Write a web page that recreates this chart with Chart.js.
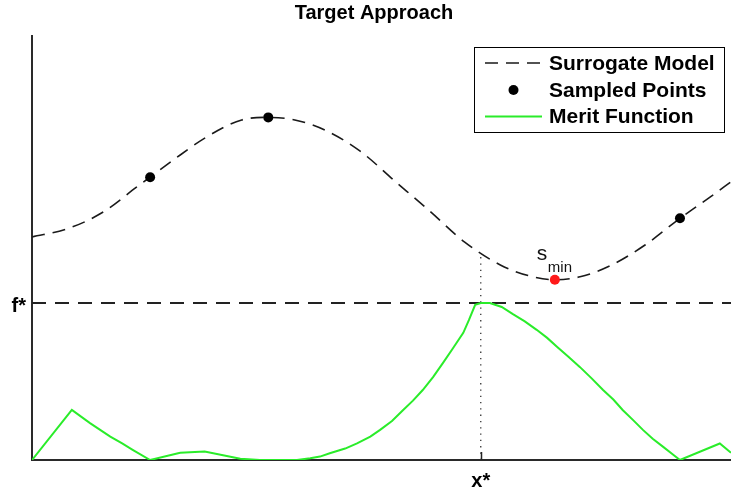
<!DOCTYPE html>
<html>
<head>
<meta charset="utf-8">
<title>Target Approach</title>
<script src="https://cdn.jsdelivr.net/npm/chart.js@4/dist/chart.umd.min.js"></script>
<style>
  html, body { margin: 0; padding: 0; background: #ffffff; }
  canvas { display: block; }
</style>
</head>
<body>
<canvas id="chart" width="731" height="493"></canvas>
<script>
// Surrogate model curve
const surrogateX = [0, 0.50, 1.00, 1.50, 2.00, 2.50, 3.00, 3.38, 3.76, 4.19, 4.69, 5.19, 5.69, 6.19, 6.70, 7.12, 7.48, 7.84, 8.27, 8.77, 9.27, 9.70, 10];
const surrogateY = [5.26, 5.45, 5.83, 6.44, 7.05, 7.62, 8.02, 8.08, 8.02, 7.78, 7.29, 6.58, 5.87, 5.14, 4.60, 4.34, 4.25, 4.32, 4.58, 5.07, 5.70, 6.20, 6.56];

// Points already evaluated
const sampledX = [1.69, 3.38, 9.27];
const sampledY = [6.67, 8.08, 5.70];

// Minimum of the surrogate
const sMinX = [7.48];
const sMinY = [4.25];

// Merit function
const meritX = [0, 0.57, 0.83, 1.12, 1.29, 1.44, 1.69, 2.12, 2.47, 2.98, 3.26, 3.79, 3.98, 4.12, 4.26, 4.48, 4.65, 4.84, 4.98, 5.15, 5.31, 5.45, 5.59, 5.74, 5.88, 6.02, 6.17, 6.25, 6.34, 6.42,
                6.55, 6.72, 6.88, 7.05, 7.22, 7.37, 7.51, 7.67, 7.84, 8.01, 8.17, 8.32, 8.45, 8.60, 8.74, 8.88, 9.03, 9.16, 9.27, 9.84, 10];
const meritY = [0, 1.18, 0.87, 0.55, 0.39, 0.24, 0, 0.17, 0.20, 0.03, 0, 0, 0.04, 0.08, 0.16, 0.27, 0.39, 0.55, 0.71, 0.92, 1.18, 1.40, 1.65, 1.96, 2.29, 2.63, 3.00, 3.30, 3.66, 3.70,
                3.70, 3.61, 3.44, 3.27, 3.07, 2.88, 2.67, 2.44, 2.19, 1.92, 1.65, 1.42, 1.18, 0.94, 0.71, 0.50, 0.31, 0.14, 0, 0.39, 0.17];

// Target value and its location
const xStar = 6.42;
const fStar = 3.70;
const surrogateAtXStar = 4.85;

const xTickLabels = ['x*'];
const yTickLabels = ['f*'];

const FONT = '"Liberation Sans", Arial, Helvetica, sans-serif';
const zip = (xs, ys) => xs.map((x, i) => ({ x, y: ys[i] }));

const surrogateDash = [13, 8];

const overlay = {
  id: 'overlay',
  afterDraw(chart) {
    const ctx = chart.ctx;
    const xs = chart.scales.x, ys = chart.scales.y;
    ctx.save();

    // title
    ctx.fillStyle = '#000';
    ctx.font = 'bold 20px ' + FONT;
    ctx.textAlign = 'center';
    ctx.textBaseline = 'alphabetic';
    ctx.fillText('Target Approach', 374, 19);

    // inner tick at x*
    const tx = Math.round(xs.getPixelForValue(xStar)) + 0.5;
    ctx.strokeStyle = '#222';
    ctx.lineWidth = 1.5;
    ctx.setLineDash([]);
    ctx.beginPath();
    ctx.moveTo(tx, ys.bottom);
    ctx.lineTo(tx, ys.bottom - 8);
    ctx.stroke();

    // s_min label
    const px = xs.getPixelForValue(sMinX[0]);
    const py = ys.getPixelForValue(sMinY[0]);
    ctx.textAlign = 'left';
    ctx.fillStyle = '#111';
    ctx.font = '21px ' + FONT;
    ctx.fillText('s', px - 18, py - 20);
    ctx.font = '15px ' + FONT;
    ctx.fillText('min', px - 7, py - 8);

    // legend box
    const lx = 474.5, ly = 47.5, lw = 250, lh = 85;
    ctx.fillStyle = '#fff';
    ctx.fillRect(lx, ly, lw, lh);
    ctx.strokeStyle = '#000';
    ctx.lineWidth = 1;
    ctx.strokeRect(lx, ly, lw, lh);

    const rows = [63, 90, 116.5];
    const sx0 = 485, sx1 = 542, textX = 549;
    const ds = chart.data.datasets;
    const entries = [ds[1], ds[0], ds[2]];
    entries.forEach((d, i) => {
      const y = rows[i];
      if (d.showLine) {
        ctx.strokeStyle = d.borderColor;
        ctx.lineWidth = d.borderWidth;
        ctx.setLineDash(d.borderDash || []);
        ctx.beginPath();
        ctx.moveTo(sx0, y);
        ctx.lineTo(sx1, y);
        ctx.stroke();
        ctx.setLineDash([]);
      } else {
        ctx.fillStyle = d.backgroundColor;
        ctx.beginPath();
        ctx.arc((sx0 + sx1) / 2, y, d.pointRadius, 0, Math.PI * 2);
        ctx.fill();
      }
      ctx.fillStyle = '#000';
      ctx.font = 'bold 21px ' + FONT;
      ctx.textBaseline = 'middle';
      ctx.fillText(d.label, textX, y + 1);
    });
    ctx.restore();
  }
};

new Chart(document.getElementById('chart'), {
  type: 'scatter',
  data: {
    datasets: [
      {
        label: 'Sampled Points',
        data: zip(sampledX, sampledY),
        showLine: false,
        pointRadius: 5,
        pointHoverRadius: 5,
        backgroundColor: '#000',
        borderColor: '#000',
        borderWidth: 0,
        order: 0
      },
      {
        label: 'Surrogate Model',
        data: zip(surrogateX, surrogateY),
        showLine: true,
        cubicInterpolationMode: 'monotone',
        borderColor: '#1a1a1a',
        borderWidth: 1.6,
        borderDash: surrogateDash,
        pointRadius: 0,
        order: 2
      },
      {
        label: 'Merit Function',
        data: zip(meritX, meritY),
        showLine: true,
        tension: 0,
        borderColor: '#2aec2a',
        borderWidth: 2,
        pointRadius: 0,
        order: 3
      },
      {
        label: 'f*',
        data: [{ x: 0, y: fStar }, { x: 10, y: fStar }],
        showLine: true,
        borderColor: '#222',
        borderWidth: 2,
        borderDash: [14, 9],
        pointRadius: 0,
        order: 4
      },
      {
        label: 'x*',
        data: [{ x: xStar, y: 0 }, { x: xStar, y: surrogateAtXStar }],
        showLine: true,
        borderColor: '#333',
        borderWidth: 1.3,
        borderDash: [1.3, 5],
        pointRadius: 0,
        order: 5
      },
      {
        label: 's_min',
        data: zip(sMinX, sMinY),
        showLine: false,
        pointRadius: 5,
        pointHoverRadius: 5,
        backgroundColor: '#ff1a1a',
        borderColor: '#ff1a1a',
        borderWidth: 0,
        order: 1
      }
    ]
  },
  options: {
    responsive: false,
    animation: false,
    events: [],
    layout: { autoPadding: false, padding: { top: 36, right: 0, left: 0, bottom: 0 } },
    plugins: {
      legend: { display: false },
      title: { display: false },
      tooltip: { enabled: false }
    },
    scales: {
      x: {
        type: 'linear',
        min: 0,
        max: 10,
        grid: { display: false, drawTicks: false },
        border: { display: true, color: '#2a2a2a', width: 2 },
        afterBuildTicks: s => { s.ticks = [{ value: xStar }]; },
        afterFit: s => { s.height = 33; },
        ticks: {
          callback: (v, i) => xTickLabels[i],
          font: { family: FONT, size: 20, weight: 'bold' },
          color: '#000',
          padding: 9,
          maxRotation: 0,
          autoSkip: false
        }
      },
      y: {
        type: 'linear',
        min: 0,
        max: 10,
        grid: { display: false, drawTicks: false },
        border: { display: true, color: '#2a2a2a', width: 2 },
        afterBuildTicks: s => { s.ticks = [{ value: fStar }]; },
        afterFit: s => { s.width = 32; },
        ticks: {
          callback: (v, i) => yTickLabels[i],
          font: { family: FONT, size: 20, weight: 'bold' },
          color: '#000',
          padding: 6,
          labelOffset: 3,
          autoSkip: false
        }
      }
    }
  },
  plugins: [overlay]
});
</script>
</body>
</html>
